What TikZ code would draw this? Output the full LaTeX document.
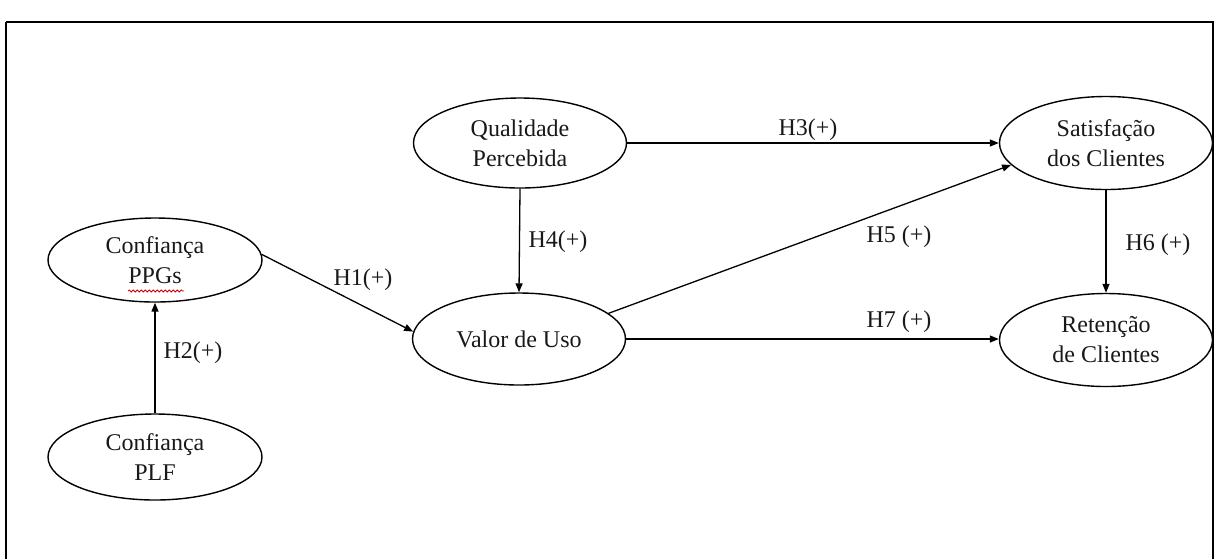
\documentclass[tikz,border=0pt]{standalone}
\usepackage{fontspec}
\setmainfont{Liberation Serif}
\usetikzlibrary{shapes.geometric,arrows.meta,decorations.pathmorphing}
\begin{document}
\begin{tikzpicture}[x=1pt,y=-1pt,
  latent/.style={draw=black,line width=1.4pt,ellipse,inner sep=0pt,minimum width=213pt,minimum height=90pt,align=center,font=\fontsize{24}{30}\selectfont,text=black!90},
  lbl/.style={inner sep=0pt,font=\fontsize{24}{28}\selectfont,text=black!90},
  conn/.style={line width=1.3pt,-{Triangle[length=9pt,width=7pt]}}]
\useasboundingbox (0,0) rectangle (1220,558);
\fill[white] (0,0) rectangle (1220,558);
\draw[line width=2pt] (6,22) -- (6,562) (6,22) -- (1213,22) -- (1213,562);
\node[latent,minimum width=214pt,minimum height=84pt] (ppg) at (155,260) {Confiança\\PPGs};
\node[latent,minimum width=214pt,minimum height=86pt] (plf) at (155,457) {Confiança\\PLF};
\node[latent] (qual) at (520,143) {Qualidade\\Percebida};
\node[latent,minimum height=92pt] (valor) at (519,339) {Valor de Uso};
\node[latent,minimum height=93pt] (sat) at (1106,143) {Satisfação\\dos Clientes};
\node[latent,minimum height=93pt] (ret) at (1106,340) {Retenção\\de Clientes};
\coordinate (sq1) at (128,291);
\coordinate (sq2) at (184,291);
\draw[red!80!black,line width=0.8pt,decorate,decoration={snake,amplitude=1pt,segment length=4pt}] (sq1) -- (sq2);
\draw[conn] (plf.north) -- (ppg.south);
\draw[conn] (ppg.3) -- (valor.176);
\draw[conn] (qual.south) -- (valor.north);
\draw[conn] (qual.east) -- (sat.west);
\draw[conn] (valor.16) -- (sat.193);
\draw[conn] (valor.east) -- (valor.east -| ret.west);
\draw[conn] (sat.south) -- (ret.north);
\node[lbl] (h1) at (363,280) {H1(+)};
\node[lbl] (h2) at (193,353) {H2(+)};
\node[lbl] (h3) at (808,130) {H3(+)};
\node[lbl] (h4) at (558,242) {H4(+)};
\node[lbl] (h5) at (899,237) {H5 (+)};
\node[lbl] (h6) at (1158,245) {H6 (+)};
\node[lbl] (h7) at (899,322) {H7 (+)};
\end{tikzpicture}
\end{document}
